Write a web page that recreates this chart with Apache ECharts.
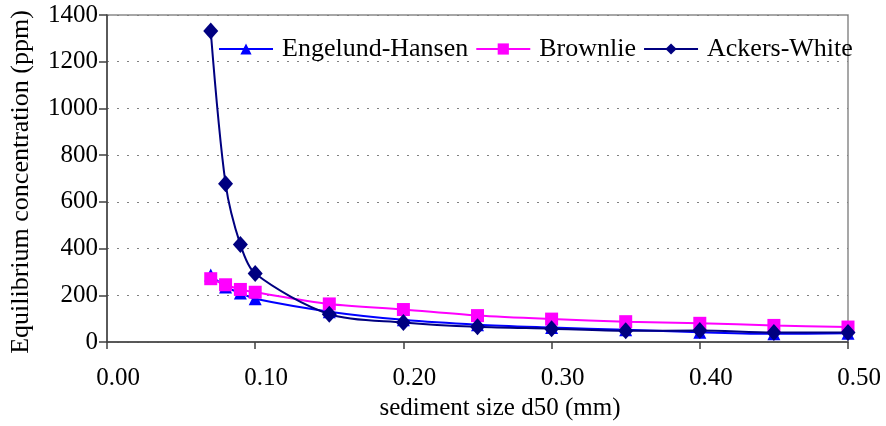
<!DOCTYPE html>
<html>
<head>
<meta charset="utf-8">
<script src="https://cdn.jsdelivr.net/npm/echarts@6/dist/echarts.min.js"></script>
<style>
html,body{margin:0;padding:0;background:#fff;}
#chart{width:886px;height:426px;}
</style>
</head>
<body>
<div id="chart"></div>
<script>
// sediment size d50 (mm)
const d50 = [0.07, 0.08, 0.09, 0.10, 0.15, 0.20, 0.25, 0.30, 0.35, 0.40, 0.45, 0.50];
// Equilibrium concentration (ppm)
const engelundHansen = [287, 236, 210, 185, 130, 95, 74, 62, 52, 42, 35, 37];
const brownlie = [271, 245, 225, 213, 163, 139, 113, 98, 87, 80, 71, 64];
const ackersWhite = [1331, 678, 417, 293, 119, 84, 65, 57, 48, 49, 41, 41];
const seriesNames = ['Engelund-Hansen', 'Brownlie', 'Ackers-White'];
const yTicks = [0, 200, 400, 600, 800, 1000, 1200, 1400];
const xTitle = 'sediment size d50 (mm)';
const yTitle = 'Equilibrium concentration (ppm)';

const FONT = 'Liberation Serif';
const ctx = document.createElement('canvas').getContext('2d');
ctx.font = '25px "Liberation Serif"';
ctx.measureText('Engelund-Hansen 0123456789');

const pairs = (ys) => d50.map((x, i) => [x, ys[i]]);
const txt = (extra) => Object.assign({fontFamily: FONT, fontSize: 25, color: '#000'}, extra || {});

const chart = echarts.init(document.getElementById('chart'), null, {renderer: 'canvas'});
const option = {
  animation: false,
  backgroundColor: '#ffffff',
  grid: {left: 107, right: 38, top: 15, bottom: 84, show: true, borderColor: '#8a8a8a', borderWidth: 1.5,
    backgroundColor: 'transparent', outerBoundsMode: 'none', containLabel: false},
  graphic: [
    {type: 'text', x: 500, y: 408, style: {text: xTitle, fontFamily: FONT, fontSize: 25, fill: '#000',
      align: 'center', verticalAlign: 'middle'}, silent: true},
    {type: 'text', rotation: Math.PI / 2, x: 21, y: 182, style: {text: yTitle, fontFamily: FONT, fontSize: 26, fill: '#000',
      align: 'center', verticalAlign: 'middle'}, silent: true}
  ],
  legend: {
    left: 218, top: 36, padding: 0,
    itemWidth: 54, itemHeight: 14, itemGap: 7,
    textStyle: txt({fontSize: 26, padding: [0, 0, 0, 4]}),
    data: seriesNames
  },
  xAxis: {
    type: 'value', min: 0, max: 0.5, interval: 0.1,
    axisLine: {show: true, onZero: false, lineStyle: {color: '#404040', width: 1.5}},
    axisTick: {show: true, inside: false, length: 7, lineStyle: {color: '#404040', width: 1.5}},
    axisLabel: txt({margin: 24, padding: [0, 0, 0, 22], formatter: (v) => v.toFixed(2)}),
    splitLine: {show: false}
  },
  yAxis: {
    type: 'value', min: yTicks[0], max: yTicks[yTicks.length - 1], interval: 200,
    axisLine: {show: true, lineStyle: {color: '#404040', width: 1.5}},
    axisTick: {show: true, inside: false, length: 8, lineStyle: {color: '#404040', width: 1.5}},
    axisLabel: txt({margin: 9, formatter: (v) => String(v)}),
    splitLine: {show: true, lineStyle: {color: '#808080', width: 1, type: [2, 8]}}
  },
  series: [
    {
      name: seriesNames[0], type: 'line', data: pairs(engelundHansen), smooth: 0.3,
      symbol: 'triangle', symbolSize: 13,
      lineStyle: {color: '#0000ff', width: 2}, itemStyle: {color: '#0000ff'}
    },
    {
      name: seriesNames[1], type: 'line', data: pairs(brownlie), smooth: 0.3,
      symbol: 'rect', symbolSize: 13,
      lineStyle: {color: '#ff00ff', width: 2}, itemStyle: {color: '#ff00ff'}
    },
    {
      name: seriesNames[2], type: 'line', data: pairs(ackersWhite), smooth: 0.3,
      symbol: 'diamond', symbolSize: [15, 17],
      lineStyle: {color: '#000080', width: 2}, itemStyle: {color: '#000080'}
    }
  ]
};
chart.setOption(option);
</script>
</body>
</html>
